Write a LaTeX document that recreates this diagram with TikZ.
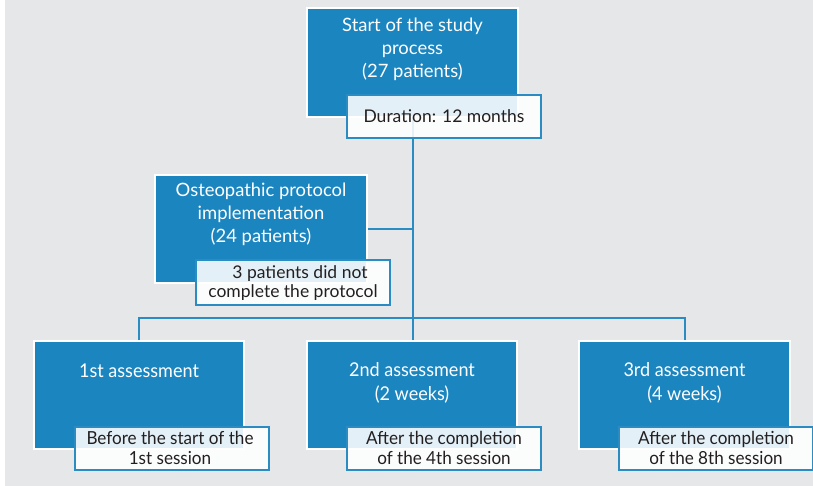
\documentclass[tikz,border=0pt]{standalone}
\usepackage{fontspec}
\setmainfont{Lato}
\newfontfamily\condfont[FakeStretch=0.95]{Lato}
\definecolor{bgray}{HTML}{E6E7E9}
\definecolor{boxblue}{HTML}{1B85C0}
\definecolor{lineblue}{HTML}{2B8CC4}
\definecolor{darktext}{HTML}{231F20}
\tikzset{
  bluebox/.style={rectangle, fill=boxblue, draw=white, line width=2pt, inner sep=0pt},
  notebox/.style={rectangle, fill=white, fill opacity=0.88, draw=lineblue, line width=2pt, inner sep=0pt},
  wtext/.style={text=white, align=center, font=\fontsize{18.4}{23}\selectfont, inner sep=0pt},
  wtextc/.style={text=white, align=center, font=\condfont\fontsize{19}{24}\selectfont, inner sep=0pt},
  dtext/.style={text=darktext, align=center, font=\fontsize{17.5}{19}\selectfont, inner sep=0pt},
  dtextc/.style={text=darktext, align=center, font=\condfont\fontsize{18}{20}\selectfont, inner sep=0pt},
  conn/.style={draw=lineblue, line width=2pt}
}
\begin{document}
\begin{tikzpicture}[x=1pt,y=-1pt]
\useasboundingbox (0,0) rectangle (813,486);
\fill[white] (0,0) rectangle (813,486);
\fill[bgray] (5,0) rectangle (813,486);

% blue boxes
\node[bluebox, minimum width=211pt, minimum height=109pt] (start) at (412.5,62.5) {};
\node[bluebox, minimum width=212pt, minimum height=108pt] (osteo) at (261,229) {};
\node[bluebox, minimum width=210pt, minimum height=108pt] (a1) at (139,395) {};
\node[bluebox, minimum width=210pt, minimum height=108pt] (a2) at (412,395) {};
\node[bluebox, minimum width=211pt, minimum height=108pt] (a3) at (684.5,395) {};

% connectors
\coordinate (jc) at (413,318);
\coordinate (jl) at (a1.north |- jc);
\coordinate (jr) at (a3.north |- jc);
\coordinate (jo) at (413,229);
\draw[conn] (413,118) -- (jc) -- (413,340);
\draw[conn] (osteo.east) -- (jo);
\draw[conn] (a1.north) -- (jl) -- (jr) -- (a3.north);

% redraw blue boxes above connectors
\node[bluebox, minimum width=211pt, minimum height=109pt] at (start) {};
\node[bluebox, minimum width=212pt, minimum height=108pt] at (osteo) {};
\node[bluebox, minimum width=210pt, minimum height=108pt] at (a2) {};

% note boxes
\node[notebox, minimum width=194pt, minimum height=43pt] (dur) at (444,116.5) {};
\node[notebox, minimum width=194pt, minimum height=45pt] (notc) at (293,282.5) {};
\node[notebox, minimum width=194pt, minimum height=43pt] (w1) at (172,448.5) {};
\node[notebox, minimum width=194pt, minimum height=43pt] (w2) at (444,448.5) {};
\node[notebox, minimum width=194pt, minimum height=43pt] (w3) at (716,448.5) {};

% texts
\node[wtext] (tstart) at (412.5,49.5) {Start of the study\\process\\(27 patients)};
\node[wtext] (tosteo) at (261,214.5) {Osteopathic protocol\\implementation\\(24 patients)};
\node[dtext] (tdur) at (444,116.5) {Duration: 12 months};
\node[dtext] (tnotc) at (293,283) {\hspace*{14pt}3 patients did not\\complete the protocol};
\node[wtextc] (ta1) at (139,370.5) {1st assessment};
\node[wtextc] (ta2) at (412,382.5) {2nd assessment\\(2 weeks)};
\node[wtextc] (ta3) at (684.5,382.5) {3rd assessment\\(4 weeks)};
\node[dtextc] (tw1) at (170,448) {Before the start of the\\1st session};
\node[dtextc] (tw2) at (444,448) {After the completion\\of the 4th session};
\node[dtextc] (tw3) at (716,448) {After the completion\\of the 8th session};
\end{tikzpicture}
\end{document}
